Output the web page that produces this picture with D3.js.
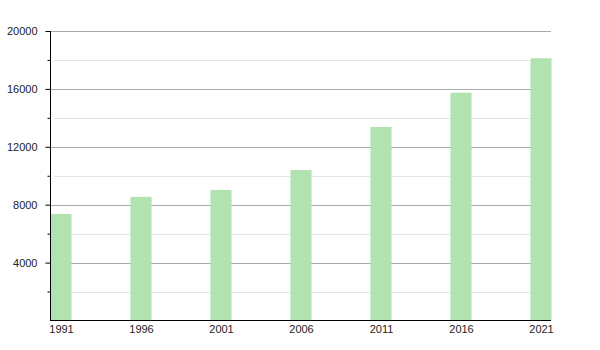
<!DOCTYPE html>
<html><head><meta charset="utf-8">
<script src="https://cdn.jsdelivr.net/npm/d3@7"></script>
<style>body{margin:0;background:#fff}svg{display:block}</style>
</head><body>
<script>
const years = ["1991","1996","2001","2006","2011","2016","2021"];
const values = [7360, 8540, 9020, 10400, 13370, 15740, 18120];
const majorTicks = [4000, 8000, 12000, 16000, 20000];
const minorTicks = [2000, 6000, 10000, 14000, 18000];

(function () {
const W = 600, H = 350;
const mLeft = 50.5, mRight = 551, mTop = 31, mBottom = 320.5;
const svg = d3.select("body").append("svg").attr("width", W).attr("height", H);

const y = d3.scaleLinear().domain([0, 20000]).range([mBottom, mTop]);
const x = d3.scalePoint().domain(years).range([61, 541]);
const bw = 21;

// minor gridlines
svg.append("g").selectAll("line").data(minorTicks).join("line")
  .attr("x1", mLeft + 4).attr("x2", mRight)
  .attr("y1", d => Math.round(y(d)) + 0.5).attr("y2", d => Math.round(y(d)) + 0.5)
  .attr("stroke", "#e4e4e4").attr("stroke-width", 1);
// major gridlines
svg.append("g").selectAll("line").data(majorTicks).join("line")
  .attr("x1", mLeft).attr("x2", mRight)
  .attr("y1", d => Math.round(y(d)) + 0.5).attr("y2", d => Math.round(y(d)) + 0.5)
  .attr("stroke", "#aaaaaa").attr("stroke-width", 1);

// bars
svg.append("g").selectAll("rect").data(values).join("rect")
  .attr("x", (d, i) => x(years[i]) - bw / 2)
  .attr("width", bw)
  .attr("y", d => y(d))
  .attr("height", d => mBottom - y(d))
  .attr("fill", "#b0e3b0");

// y axis
const yAxis = d3.axisLeft(y).tickValues(majorTicks).tickSize(5).tickPadding(8)
  .tickFormat(d3.format("d"));
const gy = svg.append("g").attr("transform", `translate(${mLeft},0)`).call(yAxis);
gy.select(".domain").attr("d", `M0,${mTop}V${mBottom}`).attr("stroke", "#000");
gy.selectAll(".tick line").attr("stroke", "#000");
gy.selectAll("text").attr("font-family", "Liberation Sans, Arial, sans-serif")
  .attr("font-size", 11).attr("fill", "#222");
const yMinor = d3.axisLeft(y).tickValues(minorTicks).tickSize(3).tickFormat("");
const gym = svg.append("g").attr("transform", `translate(${mLeft},0)`).call(yMinor);
gym.select(".domain").remove();
gym.selectAll(".tick line").attr("stroke", "#000");

// x axis
const xAxis = d3.axisBottom(x).tickSize(0).tickPadding(5);
const gx = svg.append("g").attr("transform", `translate(0,${mBottom})`).call(xAxis);
gx.select(".domain").attr("d", `M${mLeft - 0.5},0H${mRight}`).attr("stroke", "#000");
gx.selectAll("text").attr("font-family", "Liberation Sans, Arial, sans-serif")
  .attr("font-size", 11).attr("fill", "#222");
})();
</script>
</body></html>
